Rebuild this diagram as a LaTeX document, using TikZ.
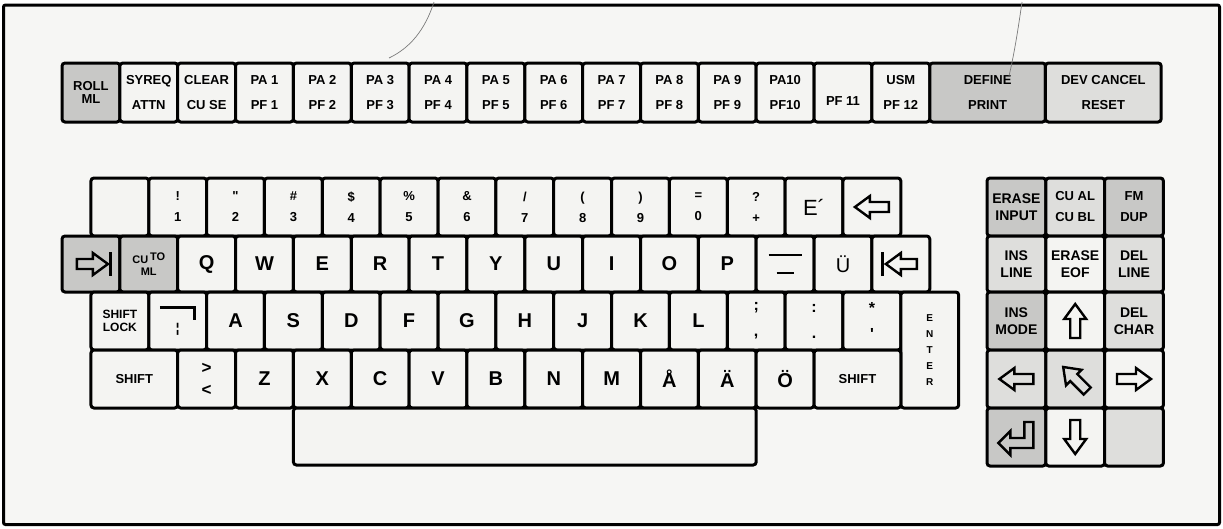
\documentclass[tikz,border=0pt]{standalone}
\usepackage{fontspec}
\usepackage{graphicx}
\newfontfamily\kf{Liberation Sans}
\definecolor{keyw}{HTML}{F4F4F2}
\definecolor{keyl}{HTML}{DEDEDC}
\definecolor{keyg}{HTML}{C8C8C6}
\definecolor{bgc}{HTML}{F6F6F4}
\definecolor{pencil}{HTML}{7A7A7A}
\tikzset{
  kcap/.style={draw=black, line width=3pt, rounded corners=3pt, inner sep=0pt, outer sep=0pt, align=center, text=black, fill=keyw},
  fkey/.style={kcap, font=\kf\bfseries\fontsize{13}{25}\selectfont},
  nkey/.style={kcap, font=\kf\bfseries\fontsize{13}{21}\selectfont},
  lkey/.style={kcap, font=\kf\bfseries\fontsize{20}{22}\selectfont},
  skey/.style={kcap, font=\kf\bfseries\fontsize{16}{26}\selectfont},
  pkey/.style={kcap, font=\kf\bfseries\fontsize{14}{17}\selectfont},
  wline/.style={draw=black, line width=2.4pt, line join=miter},
  warrow/.pic={\draw[wline] (-17,-5) -- (2,-5) -- (2,-11) -- (17,0) -- (2,11) -- (2,5) -- (-17,5) -- cycle;},
  tabarrow/.pic={\draw[wline] (-19,-5) -- (-3,-5) -- (-3,-11) -- (12,0) -- (-3,11) -- (-3,5) -- (-19,5) -- cycle; \draw[line width=3pt] (15,-12) -- (15,12);},
  retarrow/.pic={\draw[wline] (-18,6) -- (-6,-6) -- (-6,1) -- (8,1) -- (8,-15) -- (17,-15) -- (17,11) -- (-6,11) -- (-6,18) -- cycle;},
  pencilline/.style={draw=pencil, line width=0.7pt},
}
\newcommand\mkkey[7]{\node[#6, minimum width={((#4)-(#2))*1pt}, minimum height={((#5)-(#3))*1pt}] (#1) at ({((#2)+(#4))/2},{((#3)+(#5))/2}) {#7};}
\def\U{57.85}
\def\KW{58.8}
\begin{document}
\begin{tikzpicture}[x=1pt,y=-1pt]
\useasboundingbox (0,0) rectangle (1223,528);
\fill[white] (0,0) rectangle (1223,528);
\draw[line width=3pt, fill=bgc, rounded corners=2pt] (3.5,5) rectangle (1219.5,524.5);

% function row
\mkkey{roll}{62}{63}{62+\U}{122}{fkey,fill=keyg,font=\kf\bfseries\fontsize{13}{13}\selectfont}{ROLL\\ML}
\mkkey{syreq}{62+\U}{63}{62+2*\U}{122}{fkey}{SYREQ\\ATTN}
\mkkey{clear}{62+2*\U}{63}{62+3*\U}{122}{fkey}{CLEAR\\CU SE}
\foreach \i in {1,...,9}{\mkkey{pa\i}{62+(\i+2)*\U}{63}{62+(\i+3)*\U}{122}{fkey}{PA \i\\PF \i}}
\mkkey{pa10}{62+12*\U}{63}{62+13*\U}{122}{fkey}{PA10\\PF10}
\mkkey{pf11}{62+13*\U}{63}{62+14*\U}{122}{fkey}{\mbox{}\\PF 11}
\mkkey{usm}{62+14*\U}{63}{62+15*\U}{122}{fkey}{USM\\PF 12}
\mkkey{define}{62+15*\U}{63}{62+17*\U}{122}{fkey,fill=keyg}{DEFINE\\PRINT}
\mkkey{devc}{62+17*\U}{63}{62+19*\U}{122}{fkey,fill=keyl}{DEV CANCEL\\RESET}

% row 1
\mkkey{blank}{62+0.5*\U}{178}{62+1.5*\U}{236}{nkey}{}
\mkkey{k1}{62+1.5*\U}{178}{62+2.5*\U}{236}{nkey}{!\\1}
\mkkey{k2}{62+2.5*\U}{178}{62+3.5*\U}{236}{nkey}{"\\2}
\mkkey{k3}{62+3.5*\U}{178}{62+4.5*\U}{236}{nkey}{\#\\3}
\mkkey{k4}{62+4.5*\U}{178}{62+5.5*\U}{236}{nkey}{\$\\4}
\mkkey{k5}{62+5.5*\U}{178}{62+6.5*\U}{236}{nkey}{\%\\5}
\mkkey{k6}{62+6.5*\U}{178}{62+7.5*\U}{236}{nkey}{\&\\6}
\mkkey{k7}{62+7.5*\U}{178}{62+8.5*\U}{236}{nkey}{/\\7}
\mkkey{k8}{62+8.5*\U}{178}{62+9.5*\U}{236}{nkey}{(\\8}
\mkkey{k9}{62+9.5*\U}{178}{62+10.5*\U}{236}{nkey}{)\\9}
\mkkey{k0}{62+10.5*\U}{178}{62+11.5*\U}{236}{nkey}{=\\0}
\mkkey{kplus}{62+11.5*\U}{178}{62+12.5*\U}{236}{nkey}{?\\+}
\mkkey{keac}{62+12.5*\U}{178}{62+13.5*\U}{236}{lkey,font=\kf\fontsize{22}{22}\selectfont}{E´}
\mkkey{kbs}{62+13.5*\U}{178}{62+14.5*\U}{236}{nkey}{}

% row 2
\mkkey{tab}{62}{236}{62+\U}{292}{lkey,fill=keyg}{}
\mkkey{cuto}{62+\U}{236}{62+2*\U}{292}{kcap,fill=keyg,font=\kf\bfseries\fontsize{11}{12}\selectfont}{CU\,\raisebox{3pt}{TO}\\ML}
\foreach \l [count=\i from 2] in {Q,W,E,R,T,Y,U,I,O,P}{\mkkey{r2k\i}{62+\i*\U}{236}{62+(\i+1)*\U}{292}{lkey}{\l}}
\mkkey{bars}{62+12*\U}{236}{62+13*\U}{292}{kcap,font=\fontsize{10}{18}\selectfont}{\rule{33pt}{2.6pt}\\\rule{17pt}{2.6pt}}
\mkkey{uum}{62+13*\U}{236}{62+14*\U}{292}{lkey,font=\kf\fontsize{20}{22}\selectfont}{Ü}
\mkkey{btab}{62+14*\U}{236}{62+15*\U}{292}{lkey}{}

% row 3
\mkkey{slock}{62+0.5*\U}{292}{62+1.5*\U}{350}{kcap,font=\kf\bfseries\fontsize{12}{12.5}\selectfont}{SHIFT\\LOCK}
\mkkey{knot}{62+1.5*\U}{292}{62+2.5*\U}{350}{kcap,font=\kf\bfseries\fontsize{13}{24}\selectfont}{\rule{33pt}{2.6pt}\rule[-11pt]{2.6pt}{13.6pt}\\¦}
\foreach \l [count=\i from 2] in {A,S,D,F,G,H,J,K,L}{\mkkey{r3k\i}{62+(0.5+\i)*\U}{292}{62+(1.5+\i)*\U}{350}{lkey}{\l}}
\mkkey{semi}{62+11.5*\U}{292}{62+12.5*\U}{350}{skey}{;\\,}
\mkkey{colon}{62+12.5*\U}{292}{62+13.5*\U}{350}{skey}{:\\.}
\mkkey{star}{62+13.5*\U}{292}{62+14.5*\U}{350}{skey}{*\\\textquotesingle}
\mkkey{enter}{62+14.5*\U}{292}{62+15.5*\U}{408}{kcap,font=\kf\bfseries\fontsize{10}{16}\selectfont}{E\\N\\T\\E\\R}

% row 4
\mkkey{lshift}{62+0.5*\U}{350}{62+2*\U}{408}{kcap,font=\kf\bfseries\fontsize{13}{13}\selectfont}{SHIFT}
\mkkey{gtlt}{62+2*\U}{350}{62+3*\U}{408}{kcap,font=\kf\bfseries\fontsize{17}{22}\selectfont}{>\\<}
\foreach \l [count=\i from 3] in {Z,X,C,V,B,N,M,Å,Ä,Ö}{\mkkey{r4k\i}{62+\i*\U}{350}{62+(\i+1)*\U}{408}{lkey}{\l}}
\mkkey{rshift}{62+13*\U}{350}{62+14.5*\U}{408}{kcap,font=\kf\bfseries\fontsize{13}{13}\selectfont}{SHIFT}
\mkkey{space}{62+4*\U}{408}{62+12*\U}{465}{kcap}{}

% keypad
\mkkey{erin}{987}{178}{987+\KW}{236}{pkey,fill=keyg}{ERASE\\INPUT}
\mkkey{cual}{987+\KW}{178}{987+2*\KW}{236}{pkey,fill=keyl,font=\kf\bfseries\fontsize{13}{21}\selectfont}{CU AL\\CU BL}
\mkkey{fmdup}{987+2*\KW}{178}{987+3*\KW}{236}{pkey,fill=keyg,font=\kf\bfseries\fontsize{13}{21}\selectfont}{FM\\DUP}
\mkkey{insl}{987}{236}{987+\KW}{292}{pkey,fill=keyl}{INS\\LINE}
\mkkey{eeof}{987+\KW}{236}{987+2*\KW}{292}{pkey}{ERASE\\EOF}
\mkkey{dell}{987+2*\KW}{236}{987+3*\KW}{292}{pkey,fill=keyl}{DEL\\LINE}
\mkkey{insm}{987}{292}{987+\KW}{350}{pkey,fill=keyg}{INS\\MODE}
\mkkey{up}{987+\KW}{292}{987+2*\KW}{350}{pkey}{}
\mkkey{delc}{987+2*\KW}{292}{987+3*\KW}{350}{pkey,fill=keyl}{DEL\\CHAR}
\mkkey{left}{987}{350}{987+\KW}{408}{pkey,fill=keyl}{}
\mkkey{home}{987+\KW}{350}{987+2*\KW}{408}{pkey,fill=keyl}{}
\mkkey{right}{987+2*\KW}{350}{987+3*\KW}{408}{pkey}{}
\mkkey{ret}{987}{408}{987+\KW}{466}{pkey,fill=keyg}{}
\mkkey{down}{987+\KW}{408}{987+2*\KW}{466}{pkey}{}
\mkkey{kblank}{987+2*\KW}{408}{987+3*\KW}{466}{pkey,fill=keyl}{}

% arrows
\pic[rotate=180] at (kbs.center) {warrow};
\pic at ([xshift=5pt]tab.center) {tabarrow};
\pic[rotate=180] at ([xshift=-3pt]btab.center) {tabarrow};
\pic[rotate=90] at (up.center) {warrow};
\pic[rotate=180] at (left.center) {warrow};
\pic[rotate=135] at (home.center) {warrow};
\pic at (right.center) {warrow};
\pic at (ret.center) {retarrow};
\pic[rotate=-90] at (down.center) {warrow};

% pencil marks
\draw[pencilline] (434,2) .. controls (425,30) and (410,48) .. (389,58);
\draw[pencilline] (1022,2) .. controls (1018,30) and (1014,55) .. (1009,76);
\end{tikzpicture}
\end{document}
